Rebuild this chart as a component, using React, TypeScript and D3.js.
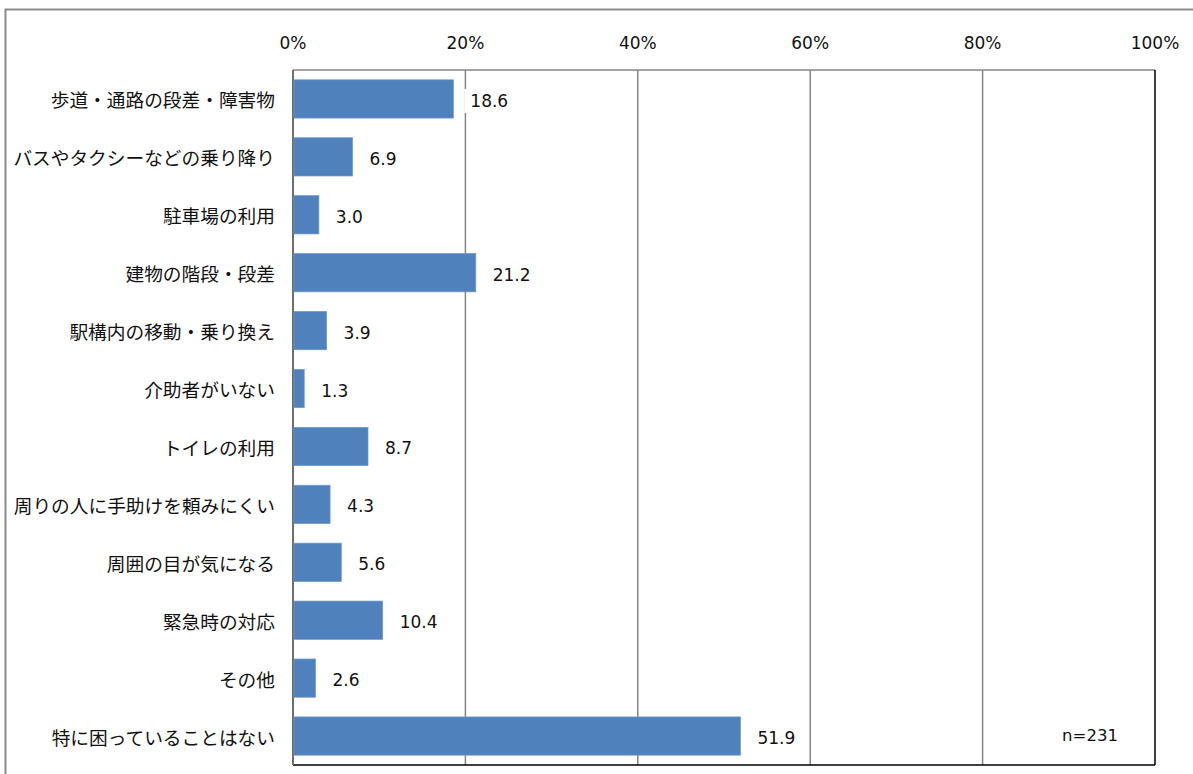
import React from "react";
import * as d3 from "d3";

const categories = [
  "歩道・通路の段差・障害物",
  "バスやタクシーなどの乗り降り",
  "駐車場の利用",
  "建物の階段・段差",
  "駅構内の移動・乗り換え",
  "介助者がいない",
  "トイレの利用",
  "周りの人に手助けを頼みにくい",
  "周囲の目が気になる",
  "緊急時の対応",
  "その他",
  "特に困っていることはない",
];
const values = [18.6, 6.9, 3.0, 21.2, 3.9, 1.3, 8.7, 4.3, 5.6, 10.4, 2.6, 51.9];
const ticks = [0, 20, 40, 60, 80, 100];
const sampleNote = "n=231";

const W = 1193;
const H = 774;
const plot = { left: 293, right: 1155, top: 70, bottom: 765 };
const NUM_FONT = "'DejaVu Sans', Verdana, sans-serif";
const CJK_FONT = "'Noto Sans CJK JP', sans-serif";

export default function App() {
  const x = d3.scaleLinear().domain([0, 100]).range([plot.left, plot.right]);
  const y = d3
    .scaleBand<string>()
    .domain(categories)
    .range([plot.top, plot.bottom])
    .paddingInner(0.34)
    .paddingOuter(0.17);

  return (
    <svg
      width={W}
      height={H}
      style={{ position: "absolute", left: 0, top: 0, background: "#fff" }}
    >
      <rect x={0} y={0} width={W} height={H} fill="#fff" />
      {/* outer chart border */}
      <path d={`M5.5,${H + 2} V9.5 H${W + 2}`} fill="none" stroke="#8c8c8c" strokeWidth={2} />

      {/* gridlines */}
      {ticks.slice(1, -1).map((t) => (
        <line key={t} x1={x(t)} x2={x(t)} y1={plot.top} y2={plot.bottom} stroke="#868686" strokeWidth={1.5} />
      ))}
      {/* plot area border */}
      <line x1={plot.left} x2={plot.right} y1={plot.top} y2={plot.top} stroke="#868686" strokeWidth={1.5} />
      <line x1={plot.right} x2={plot.right} y1={plot.top} y2={plot.bottom} stroke="#000" strokeWidth={1.5} />
      <line x1={plot.left} x2={plot.right} y1={plot.bottom} y2={plot.bottom} stroke="#000" strokeWidth={1.5} />
      <line x1={plot.left} x2={plot.left} y1={plot.top} y2={plot.bottom} stroke="#6e6e6e" strokeWidth={2} />

      {/* tick labels */}
      {ticks.map((t) => (
        <text
          key={t}
          x={x(t)}
          y={43}
          textAnchor="middle"
          dominantBaseline="central"
          fontFamily={NUM_FONT}
          fontSize={17}
          fill="#111"
        >
          {t}%
        </text>
      ))}

      {/* bars */}
      {categories.map((c, i) => (
        <rect
          key={c}
          x={x(0) + 1}
          y={y(c)!}
          width={x(values[i]) - x(0) - 1}
          height={y.bandwidth()}
          fill="#4f81bd"
          stroke="#6d96c9"
          strokeWidth={0.75}
        />
      ))}

      {/* value labels */}
      {categories.map((c, i) => {
        const label = values[i].toFixed(1);
        const lx = x(values[i]) + 17;
        const cy = y(c)! + y.bandwidth() / 2 + 2;
        const w = label.length * 10;
        return (
          <g key={c}>
            <rect x={lx - 6} y={cy - 12} width={w + 12} height={24} fill="#fff" />
            <text
              x={lx}
              y={cy}
              dominantBaseline="central"
              fontFamily={NUM_FONT}
              fontSize={17}
              fill="#111"
            >
              {label}
            </text>
          </g>
        );
      })}

      {/* category labels */}
      {categories.map((c) => (
        <text
          key={c}
          x={275}
          y={y(c)! + y.bandwidth() / 2}
          textAnchor="end"
          dominantBaseline="central"
          fontFamily={CJK_FONT}
          fontSize={18.7}
          fill="#111"
        >
          {c}
        </text>
      ))}

      <text
        x={1090}
        y={735}
        textAnchor="middle"
        dominantBaseline="central"
        fontFamily={NUM_FONT}
        fontSize={16.5}
        fill="#111"
      >
        {sampleNote}
      </text>
    </svg>
  );
}
